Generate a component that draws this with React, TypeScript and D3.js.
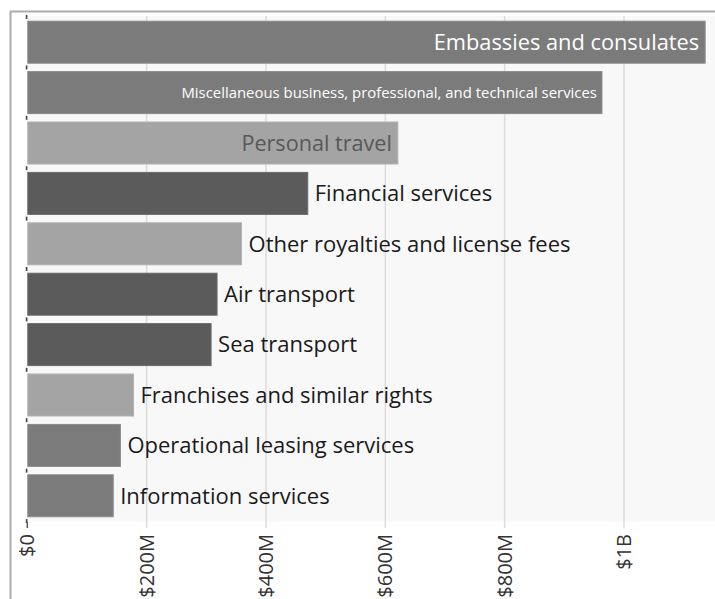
import React from "react";
import * as d3 from "d3";

const categories = [
  "Embassies and consulates",
  "Miscellaneous business, professional, and technical services",
  "Personal travel",
  "Financial services",
  "Other royalties and license fees",
  "Air transport",
  "Sea transport",
  "Franchises and similar rights",
  "Operational leasing services",
  "Information services",
];
const values = [1136e6, 963e6, 621e6, 470e6, 359e6, 318e6, 308e6, 178e6, 156e6, 144e6];
const groups = ["mid", "mid", "light", "dark", "light", "dark", "dark", "light", "mid", "mid"];
const tickValues = [0, 200e6, 400e6, 600e6, 800e6, 1e9];
const tickLabels = ["$0", "$200M", "$400M", "$600M", "$800M", "$1B"];
// label placement: inside large, inside small, or outside
const labelMode = ["inside", "insideSmall", "insideDark", "out", "out", "out", "out", "out", "out", "out"];

const W = 715;
const H = 599;
const left = 27.3;
const right = 715;
const top = 17;
const bottom = 521;

const fillColor: Record<string, string> = {
  mid: "#7b7b7b",
  light: "#a4a4a4",
  dark: "#5b5b5b",
};
const strokeColor: Record<string, string> = {
  mid: "#8a8a8a",
  light: "#b0b0b0",
  dark: "#6a6a6a",
};

const FONT = "'Open Sans', 'Noto Sans', sans-serif";

export default function App() {
  const x = d3.scaleLinear().domain([0, 1152.5e6]).range([left, right]);
  const y = d3
    .scaleBand<string>()
    .domain(categories)
    .range([top, bottom])
    .paddingInner(0.167)
    .paddingOuter(0.0835);
  const step = y.step();
  const bandTicks = d3.range(categories.length + 1).map((i) => top + i * step);

  return (
    <svg
      width={W}
      height={H}
      style={{ position: "absolute", left: 0, top: 0, background: "#fff" }}
      fontFamily={FONT}
    >
      {/* outer frame */}
      <line x1={10.5} y1={11} x2={10.5} y2={H} stroke="#acacac" strokeWidth={2} />
      <line x1={10} y1={11.5} x2={W} y2={11.5} stroke="#acacac" strokeWidth={2} />
      {/* plot background */}
      <rect x={left} y={16} width={right - left} height={bottom + 0.7 - 16} fill="#f8f8f8" />
      {/* gridlines */}
      {tickValues.map((t, i) =>
        i === 0 ? null : (
          <line
            key={"g" + i}
            x1={x(t)}
            x2={x(t)}
            y1={16}
            y2={528}
            stroke="#dcdcdc"
            strokeWidth={1.5}
          />
        )
      )}
      {/* y band ticks */}
      {bandTicks.map((b, i) => (
        <rect key={"bt" + i} x={25.8} y={b - 2} width={1.6} height={4} fill="#444" />
      ))}
      {/* x zero tick */}
      <line x1={x(0)} x2={x(0)} y1={522} y2={528} stroke="#555" strokeWidth={1.5} />
      {/* bars */}
      {categories.map((c, i) => (
        <rect
          key={"b" + i}
          x={x(0) + 0.5}
          y={y(c)!}
          width={x(values[i]) - x(0) - 0.5}
          height={y.bandwidth()}
          fill={fillColor[groups[i]]}
          stroke={strokeColor[groups[i]]}
          strokeWidth={1}
        />
      ))}
      {/* labels */}
      {categories.map((c, i) => {
        const cy = y(c)! + y.bandwidth() / 2;
        const xe = x(values[i]);
        const mode = labelMode[i];
        if (mode === "inside")
          return (
            <text key={"l" + i} x={xe - 6} y={cy} dy="0.35em" textAnchor="end" fontSize={21.8} fill="#ffffff">
              {c}
            </text>
          );
        if (mode === "insideSmall")
          return (
            <text key={"l" + i} x={xe - 5} y={cy} dy="0.35em" textAnchor="end" fontSize={14.9} fill="#ffffff">
              {c}
            </text>
          );
        if (mode === "insideDark")
          return (
            <text key={"l" + i} x={xe - 6} y={cy} dy="0.35em" textAnchor="end" fontSize={21.6} fill="#585858">
              {c}
            </text>
          );
        return (
          <text key={"l" + i} x={xe + 7} y={cy} dy="0.35em" textAnchor="start" fontSize={22} fill="#1a1a1a">
            {c}
          </text>
        );
      })}
      {/* x tick labels */}
      {tickValues.map((t, i) => (
        <text
          key={"xl" + i}
          transform={`translate(${x(t)},534) rotate(-90)`}
          dy="0.35em"
          textAnchor="end"
          fontSize={20}
          fill="#333"
        >
          {tickLabels[i]}
        </text>
      ))}
    </svg>
  );
}
